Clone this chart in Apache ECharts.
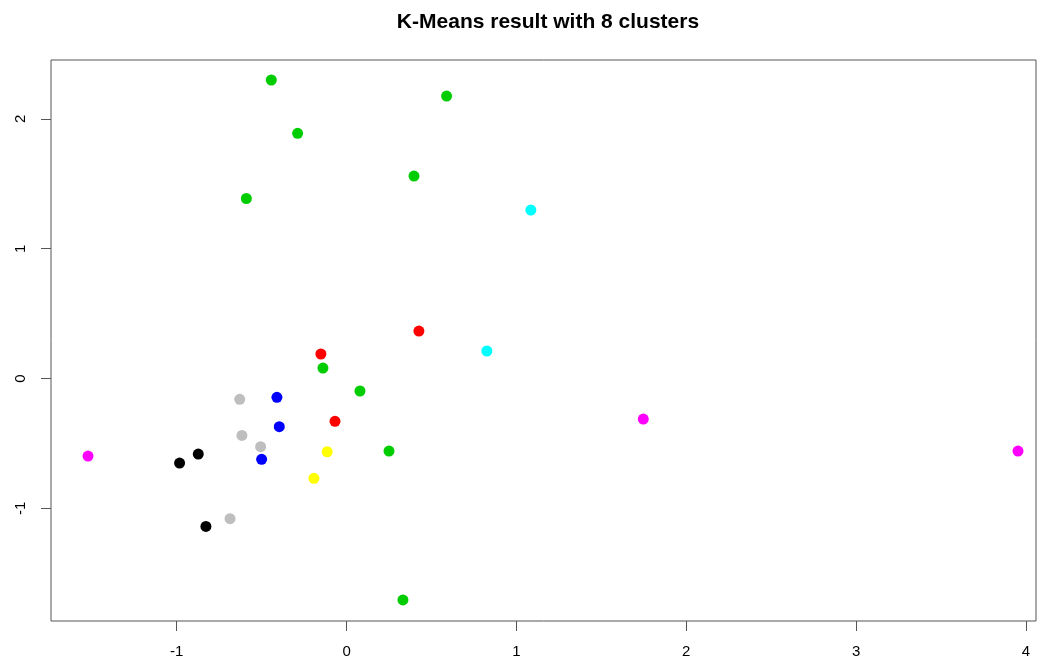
<!DOCTYPE html>
<html>
<head>
<meta charset="utf-8">
<script src="https://cdn.jsdelivr.net/npm/echarts@6/dist/echarts.min.js"></script>
<style>html,body{margin:0;padding:0;background:#fff}#c{width:1049px;height:666px}</style>
</head>
<body>
<div id="c"></div>
<script>
var titleText = 'K-Means result with 8 clusters';
var xTicks = [-1, 0, 1, 2, 3, 4];
var yTicks = [-1, 0, 1, 2];
var green = [[-0.443,2.300],[0.589,2.176],[-0.288,1.889],[0.397,1.560],[-0.590,1.387],[-0.139,0.081],[0.079,-0.096],[0.250,-0.559],[0.332,-1.706]];
var cyan = [[1.085,1.298],[0.826,0.212]];
var red = [[0.426,0.366],[-0.151,0.189],[-0.068,-0.330]];
var magenta = [[-1.522,-0.597],[1.747,-0.312],[3.953,-0.559]];
var blue = [[-0.410,-0.145],[-0.396,-0.371],[-0.500,-0.622]];
var gray = [[-0.629,-0.160],[-0.616,-0.438],[-0.506,-0.525],[-0.686,-1.080]];
var yellow = [[-0.114,-0.564],[-0.192,-0.769]];
var black = [[-0.983,-0.651],[-0.873,-0.582],[-0.828,-1.139]];
var clusters = [
  {name:'1', data:green, color:'#00CD00'},
  {name:'2', data:cyan, color:'#00FFFF'},
  {name:'3', data:red, color:'#FF0000'},
  {name:'4', data:magenta, color:'#FF00FF'},
  {name:'5', data:blue, color:'#0000FF'},
  {name:'6', data:gray, color:'#BEBEBE'},
  {name:'7', data:yellow, color:'#FFFF00'},
  {name:'8', data:black, color:'#000000'}
];
var chart = echarts.init(document.getElementById('c'), null, {renderer:'canvas'});
var font = 'Liberation Sans, Arial, sans-serif';
function mkAxis(min, max, ticks, extraLabel) {
  return {
    type:'value', min:min, max:max,
    splitLine:{show:false},
    axisLine:{show:false, onZero:false},
    axisTick:{show:true, length:10, customValues:ticks, lineStyle:{color:'#555', width:1}},
    axisLabel:Object.assign({show:true, customValues:ticks, color:'#000', fontFamily:font, fontSize:15, margin:23}, extraLabel || {})
  };
}
chart.setOption({
  animation:false,
  backgroundColor:'#fff',
  title:{text:titleText, left:543, top:7, textAlign:'center',
    textStyle:{fontFamily:font, fontWeight:'bold', fontSize:21, color:'#000'}},
  grid:{left:51, right:13, top:60, bottom:45, show:true, borderColor:'#555', borderWidth:1, backgroundColor:'transparent'},
  xAxis: mkAxis(-1.740, 4.059, xTicks),
  yAxis: mkAxis(-1.868, 2.454, yTicks, {rotate:90}),
  series: clusters.map(function(c){
    return {type:'scatter', name:c.name, data:c.data, symbol:'circle', symbolSize:11,
      itemStyle:{color:c.color, opacity:1}, emphasis:{disabled:true}};
  })
});
</script>
</body>
</html>
